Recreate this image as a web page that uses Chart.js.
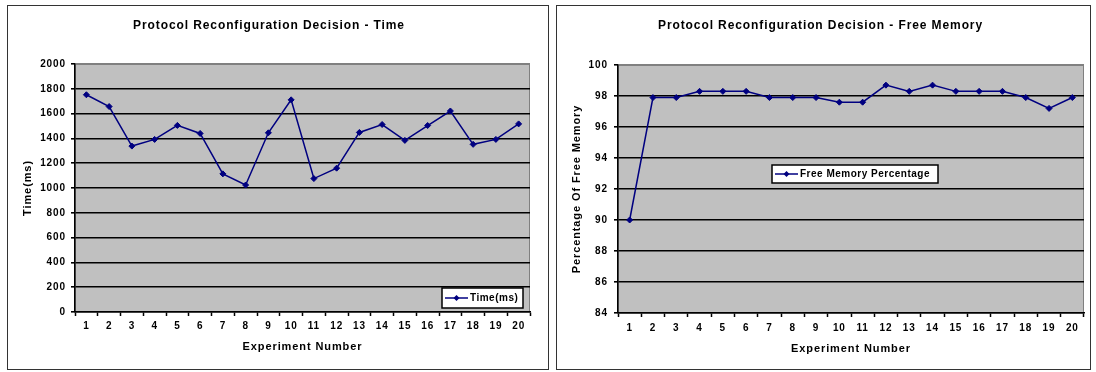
<!DOCTYPE html>
<html lang="en">
  <head>
    <meta charset="UTF-8" />
    <title>Protocol Reconfiguration Decision</title>
    <script src="https://cdn.jsdelivr.net/npm/chart.js"></script>
    <style>
      body {
        margin: 0;
        background: #fff;
        width: 1096px;
        height: 372px;
        position: relative;
        overflow: hidden;
      }
      .box {
        position: absolute;
        top: 5px;
        height: 365px;
        border: 1px solid #333;
        box-sizing: border-box;
      }
      .box.left { left: 7px; width: 542px; }
      .box.right { left: 556px; width: 535px; }
      canvas { display: block; }
    </style>
  </head>
  <body>
    <div class="box left"><canvas id="chart_time" width="540" height="363"></canvas></div>
    <div class="box right"><canvas id="chart_mem" width="533" height="363"></canvas></div>

    <script>
      const experiments = ['1', '2', '3', '4', '5', '6', '7', '8', '9', '10',
        '11', '12', '13', '14', '15', '16', '17', '18', '19', '20'];

      const timeMs = [1752, 1657, 1338, 1392, 1505, 1440, 1114, 1024, 1445, 1711,
        1076, 1160, 1448, 1512, 1384, 1504, 1621, 1352, 1392, 1517];

      const freeMemory = [90, 97.9, 97.9, 98.3, 98.3, 98.3, 97.9, 97.9, 97.9, 97.6,
        97.6, 98.7, 98.3, 98.7, 98.3, 98.3, 98.3, 97.9, 97.2, 97.9];

      const timeTicks = [0, 200, 400, 600, 800, 1000, 1200, 1400, 1600, 1800, 2000];
      const memoryTicks = [84, 86, 88, 90, 92, 94, 96, 98, 100];

      Chart.defaults.font.family = "'Liberation Sans', Arial, sans-serif";
      Chart.defaults.font.weight = 'bold';
      Chart.defaults.color = '#000';

      const NAVY = '#000080';

      // grey plot area, spaced-out text and the boxed legend inside the plot
      const plotLook = {
        id: 'plotLook',
        beforeUpdate(chart) {
          chart.ctx.letterSpacing = '0.9px';
        },
        beforeDraw(chart) {
          const { ctx, chartArea: a } = chart;
          ctx.save();
          ctx.fillStyle = '#c0c0c0';
          ctx.fillRect(a.left, a.top, a.right - a.left, a.bottom - a.top);
          ctx.strokeStyle = '#808080';
          ctx.lineWidth = 1;
          ctx.strokeRect(a.left + 0.5, a.top + 0.5, a.right - a.left - 1, a.bottom - a.top - 1);
          ctx.restore();
        },
        afterDraw(chart, args, opts) {
          const { ctx, chartArea: a } = chart;
          const ds = chart.data.datasets[0];
          const x = a.left + opts.left;
          const y = a.top + opts.top;
          const mid = y + opts.height / 2;

          ctx.save();
          ctx.fillStyle = '#fff';
          ctx.fillRect(x, y, opts.width, opts.height);
          ctx.strokeStyle = '#000';
          ctx.lineWidth = 1.5;
          ctx.strokeRect(x, y, opts.width, opts.height);

          ctx.strokeStyle = ds.borderColor;
          ctx.lineWidth = 1.5;
          ctx.beginPath();
          ctx.moveTo(x + 3, mid);
          ctx.lineTo(x + 26, mid);
          ctx.stroke();

          ctx.fillStyle = ds.borderColor;
          ctx.beginPath();
          ctx.moveTo(x + 14.5, mid - 3);
          ctx.lineTo(x + 17.5, mid);
          ctx.lineTo(x + 14.5, mid + 3);
          ctx.lineTo(x + 11.5, mid);
          ctx.closePath();
          ctx.fill();

          ctx.fillStyle = '#000';
          ctx.letterSpacing = '0.5px';
          ctx.font = "bold 10px 'Liberation Sans', Arial, sans-serif";
          ctx.textBaseline = 'middle';
          ctx.textAlign = 'left';
          ctx.fillText(ds.label, x + 28, mid + 0.5);
          ctx.restore();
        },
      };

      function createChart(chartId, o) {
        const yMin = o.ticks[0];
        const yMax = o.ticks[o.ticks.length - 1];

        return new Chart(document.getElementById(chartId), {
          type: 'line',
          data: {
            labels: experiments,
            datasets: [
              {
                label: o.label,
                data: o.data,
                borderColor: NAVY,
                backgroundColor: NAVY,
                borderWidth: 1.5,
                pointStyle: 'rectRot',
                pointRadius: 3,
                pointBorderWidth: 1,
                tension: 0,
              },
            ],
          },
          options: {
            responsive: false,
            animation: false,
            events: [],
            layout: { padding: { left: 0, right: o.padRight, top: 0, bottom: 0 } },
            plugins: {
              legend: { display: false },
              tooltip: { enabled: false },
              title: {
                display: true,
                text: o.title,
                color: '#000',
                font: { size: 12, weight: 'bold' },
                padding: { top: 12, bottom: o.titleGap },
              },
              plotLook: o.legendBox,
            },
            scales: {
              x: {
                offset: true,
                grid: {
                  display: true,
                  drawOnChartArea: false,
                  offset: true,
                  tickLength: 4,
                  tickColor: '#000',
                  tickWidth: 1.5,
                },
                border: { display: true, color: '#000', width: 1.5 },
                ticks: { padding: o.xTickPad, font: { size: 10 }, maxRotation: 0, autoSkip: false },
                title: {
                  display: true,
                  text: 'Experiment Number',
                  font: { size: 11 },
                  padding: { top: 0, bottom: o.xTitlePad },
                },
                afterFit(scale) {
                  scale.height = o.xHeight;
                },
              },
              y: {
                min: yMin,
                max: yMax,
                ticks: {
                  stepSize: o.ticks[1] - o.ticks[0],
                  padding: o.yTickPad,
                  font: { size: 10 },
                  callback: (v) => String(v),
                },
                grid: {
                  color: (c) => (c.tick && c.tick.value === yMax ? '#808080' : '#000'),
                  lineWidth: 1.6,
                  tickLength: 4,
                  tickColor: '#000',
                },
                border: { display: true, color: '#000', width: 1.5 },
                title: {
                  display: true,
                  text: o.yTitle,
                  font: { size: 11 },
                  padding: { top: 13.4, bottom: 0 },
                },
                afterFit(scale) {
                  scale.width = o.yWidth;
                },
              },
            },
          },
          plugins: [plotLook],
        });
      }

      createChart('chart_time', {
        title: 'Protocol Reconfiguration Decision - Time',
        label: 'Time(ms)',
        yTitle: 'Time(ms)',
        data: timeMs,
        ticks: timeTicks,
        padRight: 18,
        titleGap: 31.6,
        xHeight: 57,
        xTickPad: 4,
        xTitlePad: 15.4,
        yWidth: 67,
        yTickPad: 5,
        legendBox: { left: 367, top: 224, width: 81, height: 20 },
      });

      createChart('chart_mem', {
        title: 'Protocol Reconfiguration Decision - Free Memory',
        label: 'Free Memory Percentage',
        yTitle: 'Percentage Of Free Memory',
        data: freeMemory,
        ticks: memoryTicks,
        padRight: 6,
        titleGap: 32.6,
        xHeight: 56,
        xTickPad: 5,
        xTitlePad: 13.4,
        yWidth: 61,
        yTickPad: 6,
        legendBox: { left: 154, top: 100, width: 166, height: 18 },
      });
    </script>
  </body>
</html>
